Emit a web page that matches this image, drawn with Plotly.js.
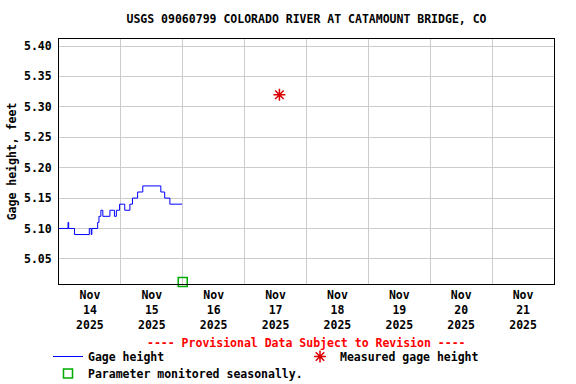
<!DOCTYPE html>
<html>
<head>
<meta charset="utf-8">
<script src="https://cdn.plot.ly/plotly-3.0.1.min.js"></script>
<style>html,body{margin:0;padding:0;background:#fff;}#chart{width:576px;height:384px;}</style>
</head>
<body>
<div id="chart"></div>
<script>
// Gage height (feet), step data
const gageTimes = [
  '2025-11-14 00:00','2025-11-14 03:30','2025-11-14 03:45','2025-11-14 06:00',
  '2025-11-14 11:45','2025-11-14 12:30','2025-11-14 12:45','2025-11-14 15:00',
  '2025-11-14 15:30','2025-11-14 16:15','2025-11-14 17:00','2025-11-14 19:45',
  '2025-11-14 21:30','2025-11-14 22:15','2025-11-14 23:30','2025-11-15 01:30',
  '2025-11-15 03:30','2025-11-15 04:30','2025-11-15 06:30','2025-11-15 08:30',
  '2025-11-15 15:30','2025-11-15 17:00','2025-11-15 19:00','2025-11-15 23:45'
];
const gageValues = [
  5.10, 5.11, 5.10, 5.09,
  5.10, 5.09, 5.10, 5.11,
  5.12, 5.13, 5.12, 5.13,
  5.12, 5.13, 5.14, 5.13,
  5.14, 5.15, 5.16, 5.17,
  5.16, 5.15, 5.14, 5.14
];
const measuredTimes = ['2025-11-17 13:30'];
const measuredValues = [5.32];
const seasonalTimes = ['2025-11-16 00:00'];
const seasonalValues = [5.012];
const tickDates = ['2025-11-14 12:00','2025-11-15 12:00','2025-11-16 12:00','2025-11-17 12:00',
                   '2025-11-18 12:00','2025-11-19 12:00','2025-11-20 12:00','2025-11-21 12:00'];
const tickLabels = ['Nov<br>14<br>2025','Nov<br>15<br>2025','Nov<br>16<br>2025','Nov<br>17<br>2025',
                    'Nov<br>18<br>2025','Nov<br>19<br>2025','Nov<br>20<br>2025','Nov<br>21<br>2025'];
const yTicks = [5.05, 5.10, 5.15, 5.20, 5.25, 5.30, 5.35, 5.40];

const F = 'DejaVu Sans Mono, Liberation Mono, monospace';
const traces = [
  {x: gageTimes, y: gageValues, type: 'scatter', mode: 'lines', name: 'Gage height', legend: 'legend',
   line: {color: '#0000ff', width: 1, shape: 'hv'}},
  {x: measuredTimes, y: measuredValues, type: 'scatter', mode: 'markers', name: 'Measured gage height', legend: 'legend2',
   marker: {symbol: 'asterisk-open', size: 10, color: '#dd0000', line: {color: '#dd0000', width: 1.5}}},
  {x: seasonalTimes, y: seasonalValues, type: 'scatter', mode: 'markers', name: 'Parameter monitored seasonally.', legend: 'legend3',
   marker: {symbol: 'square-open', size: 9, color: '#00aa00', line: {color: '#00aa00', width: 1.5}}, cliponaxis: false}
];
function leg(x, yTop) {
  return {xref: 'paper', yref: 'paper', x: (x - 59) / 495, y: (284 - yTop) / 245,
          xanchor: 'left', yanchor: 'top', bgcolor: 'rgba(0,0,0,0)', itemwidth: 30,
          font: {family: F, size: 11.5, color: '#000', weight: 'bold'}};
}
const layout = {
  width: 576, height: 384,
  margin: {l: 59, r: 22, t: 39, b: 100, autoexpand: false},
  paper_bgcolor: '#fff', plot_bgcolor: '#fff',
  font: {family: F, size: 11.5, color: '#000', weight: 'bold'},
  title: {text: 'USGS 09060799 COLORADO RIVER AT CATAMOUNT BRIDGE, CO', x: 0.5, xref: 'paper',
          y: 1 - 19/384, yref: 'container', yanchor: 'middle',
          font: {family: F, size: 11.5, color: '#000', weight: 'bold'}},
  xaxis: {type: 'date', range: ['2025-11-14 00:00', '2025-11-22 00:00'],
          tickmode: 'array', tickvals: tickDates, ticktext: tickLabels,
          showgrid: false, ticks: '', showline: true, mirror: true, linecolor: '#000', linewidth: 1,
          zeroline: false, fixedrange: true, automargin: false,
          minor: {tick0: '2025-11-14 00:00', dtick: 86400000, showgrid: true, gridcolor: '#cccccc', gridwidth: 1, ticks: ''},
          tickfont: {family: F, size: 11.5, color: '#000', weight: 'bold'}},
  yaxis: {range: [5.0087, 5.4116], tickmode: 'array', tickvals: yTicks, tickformat: '.2f',
          showgrid: true, gridcolor: '#cccccc', gridwidth: 1, ticks: '', zeroline: false, automargin: false,
          showline: true, mirror: true, linecolor: '#000', linewidth: 1, ticklabelstandoff: 4,
          title: {text: 'Gage height, feet', font: {family: F, size: 11.5, color: '#000', weight: 'bold'}, standoff: 4},
          tickfont: {family: F, size: 11.5, color: '#000', weight: 'bold'}},
  showlegend: true,
  legend: leg(48, 342),
  legend2: leg(300, 342),
  legend3: leg(48, 359),
  annotations: [{text: '---- Provisional Data Subject to Revision ----', xref: 'paper', yref: 'paper',
                 x: 0.5, y: (284 - 343) / 245, xanchor: 'center', yanchor: 'middle', showarrow: false,
                 font: {family: F, size: 11.5, color: '#ff0000', weight: 'bold'}}]
};
Plotly.newPlot('chart', traces, layout, {displayModeBar: false, staticPlot: true});
</script>
</body>
</html>
